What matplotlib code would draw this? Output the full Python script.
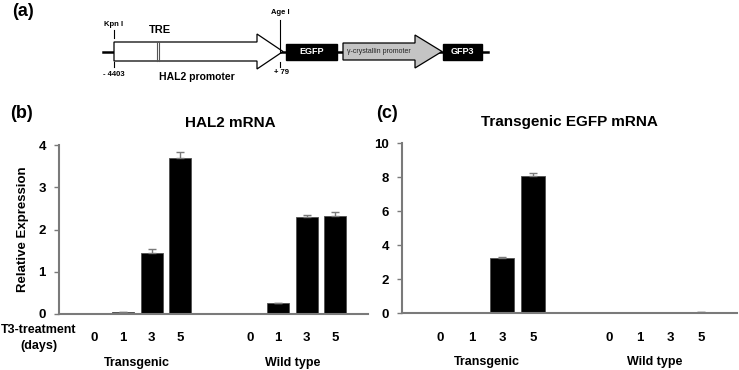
import numpy as np
import matplotlib
matplotlib.use("Agg")
import matplotlib.pyplot as plt
from matplotlib.patches import Polygon, Rectangle

plt.rcParams['font.family'] = ['Liberation Sans', 'DejaVu Sans']

# data
days = ['0', '1', '3', '5']
groups = ['Transgenic', 'Wild type']

hal2_tg = [0.0, 0.04, 1.44, 3.69]
hal2_tg_err = [0.0, 0.01, 0.09, 0.14]
hal2_wt = [0.01, 0.26, 2.29, 2.33]
hal2_wt_err = [0.0, 0.01, 0.05, 0.08]

egfp_tg = [0.0, 0.02, 3.22, 8.06]
egfp_tg_err = [0.0, 0.0, 0.05, 0.19]
egfp_wt = [0.0, 0.0, 0.0, 0.04]
egfp_wt_err = [0.0, 0.0, 0.0, 0.0]

W, H = 739, 370
GREY = '#7a7a7a'


def px(x, y):
    # pixel position (top-left origin) -> figure fraction
    return x / W, 1 - y / H


fig = plt.figure(figsize=(W / 100, H / 100), dpi=100)

# ---------- (a) construct diagram ----------
axd = fig.add_axes([0, 0, 1, 1])
axd.set_xlim(0, W)
axd.set_ylim(H, 0)
axd.axis('off')

axd.text(12, 12, '(a)', fontsize=13, fontweight='bold', va='center')
axd.plot([103, 488], [51.5, 51.5], color='black', lw=1.8, zorder=1)

# HAL2 promoter arrow
axd.add_patch(Polygon([[114, 42], [257, 42], [257, 34], [283, 51.5], [257, 69],
                       [257, 61], [114, 61]], closed=True, fc='white', ec='black',
                      lw=0.9, zorder=2))
axd.plot([156.5, 156.5], [42, 61], color='#555555', lw=0.8, zorder=3)
axd.plot([158.8, 158.8], [42, 61], color='#555555', lw=0.8, zorder=3)
axd.text(160, 30, 'TRE', fontsize=8, fontweight='bold', ha='center', va='center')
axd.text(197, 77, 'HAL2 promoter', fontsize=7.5, fontweight='bold', ha='center', va='center')

# Kpn I
axd.plot([114, 114], [30, 38], color='black', lw=0.8)
axd.plot([114, 114], [62, 67], color='black', lw=0.8)
axd.text(114, 24, 'Kpn I', fontsize=5.5, fontweight='bold', ha='center', va='center')
axd.text(114, 74, '- 4403', fontsize=5.5, fontweight='bold', ha='center', va='center')

# Age I
axd.plot([280, 280], [20, 52], color='black', lw=0.8)
axd.plot([280, 280], [62, 67], color='black', lw=0.8)
axd.text(280, 13, 'Age I', fontsize=5.5, fontweight='bold', ha='center', va='center')
axd.text(281, 73, '+ 79', fontsize=5.5, fontweight='bold', ha='center', va='center')

# EGFP box
axd.add_patch(Rectangle((286, 44), 51, 16, fc='black', ec='black', zorder=2))
axd.text(311.5, 52, 'EGFP', color='white', fontsize=6.5, fontweight='bold',
         ha='center', va='center', zorder=3)

# gamma-crystallin promoter arrow
axd.add_patch(Polygon([[343, 43], [415, 43], [415, 35], [442, 51.5], [415, 68],
                       [415, 60], [343, 60]], closed=True, fc='#c4c4c4', ec='black',
                      lw=0.9, zorder=2))
axd.text(379, 51.5, 'γ-crystallin promoter', fontsize=5, color='#222222',
         ha='center', va='center', zorder=3)

# GFP3 box
axd.add_patch(Rectangle((443, 44), 39, 16, fc='black', ec='black', zorder=2))
axd.text(462.5, 52, 'GFP3', color='white', fontsize=6.5, fontweight='bold',
         ha='center', va='center', zorder=3)

# ---------- bar panels ----------
pos_tg = np.arange(4)
pos_wt = np.arange(4) + 5.45
bar_w = 0.77


def panel(rect, tg, tg_err, wt, wt_err, ymax, ystep, label_dy):
    ax = fig.add_axes(rect)
    for pos, vals, err in [(pos_tg, tg, tg_err), (pos_wt, wt, wt_err)]:
        ax.bar(pos, vals, width=bar_w, color='black', edgecolor='#505050', lw=0.6,
               yerr=[np.zeros(len(err)), err], ecolor=GREY,
               error_kw=dict(capsize=3, elinewidth=1, capthick=1))
    ax.set_xlim(-1.25, 9.6)
    ax.set_ylim(0, ymax)
    ax.set_yticks(np.arange(0, ymax + 0.1, ystep))
    ax.set_xticks(np.concatenate([pos_tg, pos_wt]))
    ax.set_xticklabels(days + days)
    ax.tick_params(axis='x', length=0, pad=label_dy, labelsize=9.5)
    ax.tick_params(axis='y', length=3.5, width=1, color=GREY, labelsize=9.5, pad=6)
    for t in ax.get_xticklabels() + ax.get_yticklabels():
        t.set_fontweight('bold')
    for s in ['top', 'right']:
        ax.spines[s].set_visible(False)
    for s in ['left', 'bottom']:
        ax.spines[s].set_color(GREY)
        ax.spines[s].set_linewidth(1.5)
    for pos, g in zip([pos_tg, pos_wt], groups):
        ax.annotate(g, xy=(pos.mean(), 0), xycoords=('data', 'axes fraction'),
                    xytext=(0, -35), textcoords='offset points', ha='center',
                    va='center', fontsize=9, fontweight='bold')
    return ax


l, b = px(59, 314)
r, t = px(368, 145)
axb = panel([l, b, r - l, t - b], hal2_tg, hal2_tg_err, hal2_wt, hal2_wt_err, 4, 1, 13)
axb.set_ylabel('Relative Expression', fontsize=9.5, fontweight='bold', labelpad=7)

l, b = px(402, 313)
r, t = px(737, 143)
axc = panel([l, b, r - l, t - b], egfp_tg, egfp_tg_err, egfp_wt, egfp_wt_err, 10, 2, 14)

fig.text(*px(10, 113), '(b)', fontsize=13, fontweight='bold', va='center')
fig.text(*px(376, 113), '(c)', fontsize=13, fontweight='bold', va='center')
fig.text(*px(230, 123), 'HAL2 mRNA', fontsize=11, fontweight='bold', ha='center', va='center')
fig.text(*px(569, 122), 'Transgenic EGFP mRNA', fontsize=11, fontweight='bold',
         ha='center', va='center')
fig.text(*px(39, 330), 'T3-treatment', fontsize=9, fontweight='bold', ha='center', va='center')
fig.text(*px(39, 346), '(days)', fontsize=9, fontweight='bold', ha='center', va='center')

fig.savefig('out.png', dpi=100)
